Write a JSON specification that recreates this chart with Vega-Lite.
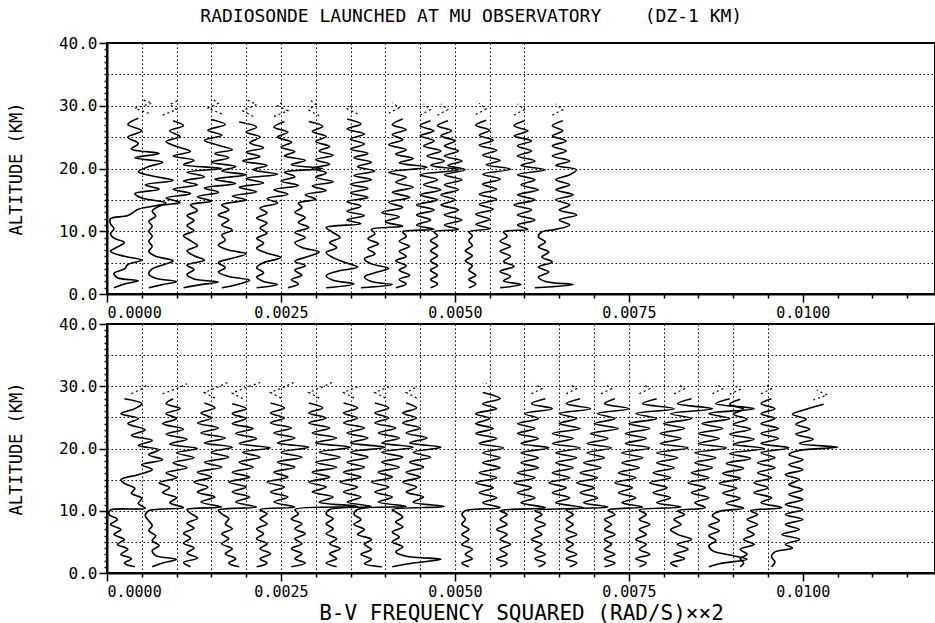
{
"$schema": "https://vega.github.io/schema/vega-lite/v6.json",
"background": "white",
"padding": {"left": 6, "top": 8, "right": 0, "bottom": 0},
"bounds": "flush",
"title": {"text": "RADIOSONDE LAUNCHED AT MU OBSERVATORY\u00a0\u00a0\u00a0\u00a0(DZ-1 KM)", "font": "DejaVu Sans Mono", "fontSize": 18, "fontWeight": "normal", "color": "black", "anchor": "middle", "offset": 8},
"config": {
  "view": {"stroke": "black", "strokeWidth": 2},
  "font": "DejaVu Sans Mono",
  "axis": {"domainColor": "black", "domainWidth": 2, "tickColor": "black", "tickWidth": 1.5, "labelColor": "black", "labelFont": "DejaVu Sans Mono", "titleFont": "DejaVu Sans Mono", "titleColor": "black", "titleFontWeight": "normal", "gridColor": "black", "gridDash": [1.5, 2.5], "gridWidth": 1}
},
"spacing": 30,
"datasets": {
"top": [
{"p":0,"h":1,"n":0.0001},{"p":0,"h":1.6,"n":0.00025},{"p":0,"h":2.1,"n":0.00045},{"p":0,"h":2.6,"n":0.00015},{"p":0,"h":3.3,"n":0.0001},{"p":0,"h":4,"n":0.00025},{"p":0,"h":4.7,"n":0.0003},{"p":0,"h":5.4,"n":0.0005},{"p":0,"h":6,"n":0.00025},{"p":0,"h":6.8,"n":0.00005},{"p":0,"h":7.5,"n":0.00015},{"p":0,"h":8.2,"n":0.00025},{"p":0,"h":8.9,"n":0.0001},{"p":0,"h":9.6,"n":0.00005},{"p":0,"h":10.4,"n":0.0001},{"p":0,"h":11.2,"n":0.00005},{"p":0,"h":12,"n":0.00005},{"p":0,"h":12.5,"n":0.0003},{"p":0,"h":13.5,"n":0.00045},{"p":0,"h":14.5,"n":0.00085},{"p":0,"h":15.3,"n":0.0005},{"p":0,"h":16,"n":0.0004},{"p":0,"h":16.7,"n":0.00075},{"p":0,"h":17.4,"n":0.00055},{"p":0,"h":18.1,"n":0.00095},{"p":0,"h":18.8,"n":0.00065},{"p":0,"h":19.5,"n":0.00045},{"p":0,"h":20.3,"n":0.0006},{"p":0,"h":21,"n":0.0008},{"p":0,"h":21.7,"n":0.0004},{"p":0,"h":22.4,"n":0.00075},{"p":0,"h":23.1,"n":0.00035},{"p":0,"h":24,"n":0.00045},{"p":0,"h":25,"n":0.0003},{"p":0,"h":26,"n":0.0005},{"p":0,"h":27,"n":0.0003},{"p":0,"h":28,"n":0.00045},
{"p":1,"h":1,"n":0.0006},{"p":1,"h":1.5,"n":0.0008},{"p":1,"h":2,"n":0.001},{"p":1,"h":2.5,"n":0.0007},{"p":1,"h":3.2,"n":0.0006},{"p":1,"h":4,"n":0.00065},{"p":1,"h":4.8,"n":0.00085},{"p":1,"h":5.3,"n":0.00095},{"p":1,"h":6,"n":0.0007},{"p":1,"h":6.8,"n":0.0006},{"p":1,"h":7.6,"n":0.00065},{"p":1,"h":8.4,"n":0.0006},{"p":1,"h":9.2,"n":0.00065},{"p":1,"h":10,"n":0.0006},{"p":1,"h":10.8,"n":0.00065},{"p":1,"h":11.6,"n":0.0006},{"p":1,"h":12.4,"n":0.0007},{"p":1,"h":13.2,"n":0.00065},{"p":1,"h":14,"n":0.00075},{"p":1,"h":14.6,"n":0.00105},{"p":1,"h":15.3,"n":0.00085},{"p":1,"h":16,"n":0.0012},{"p":1,"h":16.7,"n":0.00095},{"p":1,"h":17.4,"n":0.0013},{"p":1,"h":18,"n":0.0011},{"p":1,"h":18.7,"n":0.0014},{"p":1,"h":19.4,"n":0.00115},{"p":1,"h":20,"n":0.00165},{"p":1,"h":20.6,"n":0.0011},{"p":1,"h":21.3,"n":0.00125},{"p":1,"h":22,"n":0.00095},{"p":1,"h":22.7,"n":0.0012},{"p":1,"h":23.5,"n":0.001},{"p":1,"h":24.3,"n":0.00085},{"p":1,"h":25.1,"n":0.00105},{"p":1,"h":26,"n":0.0009},{"p":1,"h":26.8,"n":0.0011},{"p":1,"h":27.6,"n":0.00095},
{"p":2,"h":1,"n":0.0011},{"p":2,"h":1.5,"n":0.00135},{"p":2,"h":1.9,"n":0.0016},{"p":2,"h":2.4,"n":0.00125},{"p":2,"h":3.1,"n":0.00115},{"p":2,"h":3.9,"n":0.00125},{"p":2,"h":4.6,"n":0.00115},{"p":2,"h":5.4,"n":0.0014},{"p":2,"h":6.1,"n":0.00125},{"p":2,"h":6.9,"n":0.00115},{"p":2,"h":7.7,"n":0.0013},{"p":2,"h":8.5,"n":0.0012},{"p":2,"h":9.3,"n":0.0011},{"p":2,"h":10.1,"n":0.00125},{"p":2,"h":10.9,"n":0.00115},{"p":2,"h":11.7,"n":0.00125},{"p":2,"h":12.5,"n":0.00115},{"p":2,"h":13.3,"n":0.0013},{"p":2,"h":14.2,"n":0.0012},{"p":2,"h":14.8,"n":0.0015},{"p":2,"h":15.5,"n":0.0013},{"p":2,"h":16.2,"n":0.0016},{"p":2,"h":16.9,"n":0.0014},{"p":2,"h":17.6,"n":0.00185},{"p":2,"h":18.3,"n":0.00155},{"p":2,"h":19,"n":0.002},{"p":2,"h":19.6,"n":0.00165},{"p":2,"h":20.3,"n":0.00185},{"p":2,"h":21,"n":0.0015},{"p":2,"h":21.7,"n":0.00175},{"p":2,"h":22.4,"n":0.00155},{"p":2,"h":23,"n":0.0018},{"p":2,"h":23.7,"n":0.0016},{"p":2,"h":24.5,"n":0.0014},{"p":2,"h":25.3,"n":0.00165},{"p":2,"h":26.1,"n":0.00145},{"p":2,"h":27,"n":0.0017},{"p":2,"h":27.8,"n":0.0015},
{"p":3,"h":1,"n":0.00165},{"p":3,"h":1.6,"n":0.0019},{"p":3,"h":2.2,"n":0.00205},{"p":3,"h":2.8,"n":0.00175},{"p":3,"h":3.5,"n":0.0016},{"p":3,"h":4.2,"n":0.0017},{"p":3,"h":5,"n":0.0016},{"p":3,"h":5.7,"n":0.0018},{"p":3,"h":6.4,"n":0.002},{"p":3,"h":7,"n":0.00175},{"p":3,"h":7.8,"n":0.0016},{"p":3,"h":8.6,"n":0.0017},{"p":3,"h":9.4,"n":0.00165},{"p":3,"h":10.2,"n":0.0018},{"p":3,"h":11,"n":0.00165},{"p":3,"h":11.8,"n":0.00175},{"p":3,"h":12.6,"n":0.0016},{"p":3,"h":13.4,"n":0.00175},{"p":3,"h":14.2,"n":0.00165},{"p":3,"h":15,"n":0.002},{"p":3,"h":15.6,"n":0.0018},{"p":3,"h":16.3,"n":0.00215},{"p":3,"h":17,"n":0.0019},{"p":3,"h":17.7,"n":0.00225},{"p":3,"h":18.4,"n":0.002},{"p":3,"h":19.1,"n":0.00245},{"p":3,"h":19.8,"n":0.0021},{"p":3,"h":20.5,"n":0.0023},{"p":3,"h":21.2,"n":0.00195},{"p":3,"h":21.9,"n":0.0022},{"p":3,"h":22.6,"n":0.002},{"p":3,"h":23.3,"n":0.00225},{"p":3,"h":24.1,"n":0.00205},{"p":3,"h":25,"n":0.0022},{"p":3,"h":25.8,"n":0.002},{"p":3,"h":26.6,"n":0.00215},{"p":3,"h":27.4,"n":0.0019},
{"p":4,"h":1,"n":0.00215},{"p":4,"h":1.5,"n":0.00245},{"p":4,"h":2,"n":0.00225},{"p":4,"h":2.7,"n":0.00215},{"p":4,"h":3.4,"n":0.00225},{"p":4,"h":4.2,"n":0.00215},{"p":4,"h":5,"n":0.00225},{"p":4,"h":5.8,"n":0.0025},{"p":4,"h":6.5,"n":0.0023},{"p":4,"h":7.3,"n":0.00215},{"p":4,"h":8.1,"n":0.00225},{"p":4,"h":8.9,"n":0.00215},{"p":4,"h":9.7,"n":0.0023},{"p":4,"h":10.5,"n":0.0022},{"p":4,"h":11.3,"n":0.0023},{"p":4,"h":12.1,"n":0.00215},{"p":4,"h":12.9,"n":0.0023},{"p":4,"h":13.7,"n":0.0022},{"p":4,"h":14.5,"n":0.00245},{"p":4,"h":15.2,"n":0.0023},{"p":4,"h":15.9,"n":0.0026},{"p":4,"h":16.6,"n":0.0024},{"p":4,"h":17.3,"n":0.00275},{"p":4,"h":18,"n":0.0025},{"p":4,"h":18.7,"n":0.0027},{"p":4,"h":19.4,"n":0.00255},{"p":4,"h":20,"n":0.0031},{"p":4,"h":20.6,"n":0.00265},{"p":4,"h":21.3,"n":0.00285},{"p":4,"h":22,"n":0.00255},{"p":4,"h":22.7,"n":0.0027},{"p":4,"h":23.4,"n":0.0025},{"p":4,"h":24.2,"n":0.00265},{"p":4,"h":25,"n":0.00245},{"p":4,"h":25.8,"n":0.0026},{"p":4,"h":26.6,"n":0.0024},{"p":4,"h":27.5,"n":0.00255},
{"p":5,"h":1,"n":0.0026},{"p":5,"h":1.6,"n":0.00275},{"p":5,"h":2.3,"n":0.00265},{"p":5,"h":3,"n":0.0028},{"p":5,"h":3.8,"n":0.0027},{"p":5,"h":4.5,"n":0.00285},{"p":5,"h":5.2,"n":0.0027},{"p":5,"h":6,"n":0.0029},{"p":5,"h":6.7,"n":0.00305},{"p":5,"h":7.4,"n":0.0028},{"p":5,"h":8.2,"n":0.0027},{"p":5,"h":9,"n":0.00285},{"p":5,"h":9.8,"n":0.0027},{"p":5,"h":10.6,"n":0.0029},{"p":5,"h":11.4,"n":0.00275},{"p":5,"h":12.2,"n":0.00285},{"p":5,"h":13,"n":0.0027},{"p":5,"h":13.8,"n":0.0028},{"p":5,"h":14.5,"n":0.00275},{"p":5,"h":15.1,"n":0.003},{"p":5,"h":15.8,"n":0.00285},{"p":5,"h":16.5,"n":0.00315},{"p":5,"h":17.2,"n":0.00295},{"p":5,"h":17.9,"n":0.00325},{"p":5,"h":18.6,"n":0.003},{"p":5,"h":19.3,"n":0.00315},{"p":5,"h":20,"n":0.00295},{"p":5,"h":20.7,"n":0.0032},{"p":5,"h":21.4,"n":0.003},{"p":5,"h":22.1,"n":0.00325},{"p":5,"h":22.8,"n":0.00305},{"p":5,"h":23.5,"n":0.0032},{"p":5,"h":24.3,"n":0.003},{"p":5,"h":25.1,"n":0.00315},{"p":5,"h":25.9,"n":0.00295},{"p":5,"h":26.7,"n":0.0031},{"p":5,"h":27.5,"n":0.0029},
{"p":6,"h":1,"n":0.00315},{"p":6,"h":1.6,"n":0.00355},{"p":6,"h":2.2,"n":0.00325},{"p":6,"h":2.9,"n":0.00315},{"p":6,"h":3.6,"n":0.0033},{"p":6,"h":4.3,"n":0.0036},{"p":6,"h":5.1,"n":0.0034},{"p":6,"h":5.8,"n":0.00325},{"p":6,"h":6.6,"n":0.00315},{"p":6,"h":7.4,"n":0.0033},{"p":6,"h":8.2,"n":0.0032},{"p":6,"h":9,"n":0.00335},{"p":6,"h":9.8,"n":0.00325},{"p":6,"h":10.6,"n":0.00315},{"p":6,"h":11.2,"n":0.00365},{"p":6,"h":11.8,"n":0.00345},{"p":6,"h":12.5,"n":0.0037},{"p":6,"h":13.2,"n":0.00345},{"p":6,"h":14,"n":0.00365},{"p":6,"h":14.7,"n":0.00345},{"p":6,"h":15.4,"n":0.00375},{"p":6,"h":16.1,"n":0.0035},{"p":6,"h":16.8,"n":0.00375},{"p":6,"h":17.5,"n":0.0035},{"p":6,"h":18.2,"n":0.0038},{"p":6,"h":18.9,"n":0.00355},{"p":6,"h":19.6,"n":0.00385},{"p":6,"h":20.3,"n":0.0036},{"p":6,"h":21,"n":0.0038},{"p":6,"h":21.7,"n":0.00355},{"p":6,"h":22.4,"n":0.00375},{"p":6,"h":23.1,"n":0.0035},{"p":6,"h":23.9,"n":0.0037},{"p":6,"h":24.7,"n":0.0035},{"p":6,"h":25.5,"n":0.0037},{"p":6,"h":26.3,"n":0.00345},{"p":6,"h":27.1,"n":0.00365},{"p":6,"h":27.9,"n":0.00345},
{"p":7,"h":1,"n":0.00365},{"p":7,"h":1.5,"n":0.0041},{"p":7,"h":2,"n":0.0038},{"p":7,"h":2.7,"n":0.0037},{"p":7,"h":3.4,"n":0.00385},{"p":7,"h":4.1,"n":0.00405},{"p":7,"h":4.8,"n":0.0038},{"p":7,"h":5.6,"n":0.0037},{"p":7,"h":6.4,"n":0.00385},{"p":7,"h":7.2,"n":0.00375},{"p":7,"h":8,"n":0.0039},{"p":7,"h":8.8,"n":0.00375},{"p":7,"h":9.6,"n":0.00385},{"p":7,"h":10.3,"n":0.0038},{"p":7,"h":10.8,"n":0.00425},{"p":7,"h":11.5,"n":0.004},{"p":7,"h":12.3,"n":0.0042},{"p":7,"h":13,"n":0.00395},{"p":7,"h":13.8,"n":0.00425},{"p":7,"h":14.6,"n":0.00405},{"p":7,"h":15.4,"n":0.00435},{"p":7,"h":16.2,"n":0.0041},{"p":7,"h":17,"n":0.0044},{"p":7,"h":17.8,"n":0.00415},{"p":7,"h":18.6,"n":0.0043},{"p":7,"h":19.4,"n":0.00405},{"p":7,"h":20.2,"n":0.0046},{"p":7,"h":20.9,"n":0.0042},{"p":7,"h":21.6,"n":0.0044},{"p":7,"h":22.3,"n":0.00415},{"p":7,"h":23,"n":0.0043},{"p":7,"h":23.8,"n":0.00405},{"p":7,"h":24.6,"n":0.00425},{"p":7,"h":25.4,"n":0.0041},{"p":7,"h":26.2,"n":0.0043},{"p":7,"h":27,"n":0.0041},{"p":7,"h":27.9,"n":0.00425},
{"p":8,"h":1,"n":0.00415},{"p":8,"h":1.6,"n":0.0043},{"p":8,"h":2.3,"n":0.0042},{"p":8,"h":3,"n":0.00435},{"p":8,"h":3.8,"n":0.0042},{"p":8,"h":4.5,"n":0.0043},{"p":8,"h":5.3,"n":0.00415},{"p":8,"h":6,"n":0.0043},{"p":8,"h":6.8,"n":0.0042},{"p":8,"h":7.6,"n":0.00435},{"p":8,"h":8.4,"n":0.0042},{"p":8,"h":9.2,"n":0.0043},{"p":8,"h":9.9,"n":0.00425},{"p":8,"h":10.3,"n":0.0047},{"p":8,"h":11,"n":0.00445},{"p":8,"h":11.8,"n":0.00465},{"p":8,"h":12.6,"n":0.00445},{"p":8,"h":13.4,"n":0.0047},{"p":8,"h":14.2,"n":0.00445},{"p":8,"h":15,"n":0.00475},{"p":8,"h":15.8,"n":0.0045},{"p":8,"h":16.6,"n":0.0048},{"p":8,"h":17.4,"n":0.00455},{"p":8,"h":18.2,"n":0.00475},{"p":8,"h":19,"n":0.0045},{"p":8,"h":19.8,"n":0.00505},{"p":8,"h":20.5,"n":0.00465},{"p":8,"h":21.2,"n":0.00485},{"p":8,"h":22,"n":0.0046},{"p":8,"h":22.8,"n":0.0048},{"p":8,"h":23.6,"n":0.00455},{"p":8,"h":24.4,"n":0.0047},{"p":8,"h":25.2,"n":0.0045},{"p":8,"h":26,"n":0.0047},{"p":8,"h":26.8,"n":0.0045},{"p":8,"h":27.6,"n":0.00465},
{"p":9,"h":1,"n":0.00465},{"p":9,"h":1.6,"n":0.00475},{"p":9,"h":2.3,"n":0.00465},{"p":9,"h":3,"n":0.00475},{"p":9,"h":3.8,"n":0.00465},{"p":9,"h":4.5,"n":0.00475},{"p":9,"h":5.3,"n":0.00465},{"p":9,"h":6.1,"n":0.00475},{"p":9,"h":6.9,"n":0.00465},{"p":9,"h":7.7,"n":0.00475},{"p":9,"h":8.5,"n":0.00465},{"p":9,"h":9.3,"n":0.00475},{"p":9,"h":9.9,"n":0.0047},{"p":9,"h":10.3,"n":0.00505},{"p":9,"h":11,"n":0.00485},{"p":9,"h":11.8,"n":0.0051},{"p":9,"h":12.6,"n":0.00485},{"p":9,"h":13.4,"n":0.00505},{"p":9,"h":14.2,"n":0.0048},{"p":9,"h":15,"n":0.005},{"p":9,"h":15.8,"n":0.0048},{"p":9,"h":16.6,"n":0.00505},{"p":9,"h":17.4,"n":0.00485},{"p":9,"h":18.2,"n":0.0051},{"p":9,"h":19,"n":0.00485},{"p":9,"h":19.8,"n":0.00515},{"p":9,"h":20.5,"n":0.0049},{"p":9,"h":21.2,"n":0.0051},{"p":9,"h":22,"n":0.00485},{"p":9,"h":22.8,"n":0.00505},{"p":9,"h":23.6,"n":0.00485},{"p":9,"h":24.4,"n":0.005},{"p":9,"h":25.2,"n":0.0048},{"p":9,"h":26,"n":0.00495},{"p":9,"h":26.8,"n":0.00475},{"p":9,"h":27.6,"n":0.0049},
{"p":10,"h":1,"n":0.0052},{"p":10,"h":1.6,"n":0.0053},{"p":10,"h":2.3,"n":0.0052},{"p":10,"h":3,"n":0.0053},{"p":10,"h":3.8,"n":0.0052},{"p":10,"h":4.5,"n":0.00525},{"p":10,"h":5.3,"n":0.00515},{"p":10,"h":6.1,"n":0.00525},{"p":10,"h":6.9,"n":0.00515},{"p":10,"h":7.7,"n":0.00525},{"p":10,"h":8.5,"n":0.0052},{"p":10,"h":9.3,"n":0.00525},{"p":10,"h":9.9,"n":0.0052},{"p":10,"h":10.4,"n":0.0055},{"p":10,"h":11.1,"n":0.0053},{"p":10,"h":11.9,"n":0.0055},{"p":10,"h":12.7,"n":0.0053},{"p":10,"h":13.5,"n":0.00555},{"p":10,"h":14.3,"n":0.00535},{"p":10,"h":15.1,"n":0.0056},{"p":10,"h":15.9,"n":0.00535},{"p":10,"h":16.7,"n":0.0056},{"p":10,"h":17.5,"n":0.0054},{"p":10,"h":18.3,"n":0.00565},{"p":10,"h":19.1,"n":0.0054},{"p":10,"h":19.9,"n":0.0058},{"p":10,"h":20.6,"n":0.00545},{"p":10,"h":21.3,"n":0.00565},{"p":10,"h":22.1,"n":0.0054},{"p":10,"h":22.9,"n":0.0056},{"p":10,"h":23.7,"n":0.00535},{"p":10,"h":24.5,"n":0.00555},{"p":10,"h":25.3,"n":0.00535},{"p":10,"h":26.1,"n":0.0055},{"p":10,"h":26.9,"n":0.0053},{"p":10,"h":27.7,"n":0.00545},
{"p":11,"h":1,"n":0.00565},{"p":11,"h":1.5,"n":0.00595},{"p":11,"h":2.1,"n":0.0057},{"p":11,"h":2.8,"n":0.0058},{"p":11,"h":3.6,"n":0.00565},{"p":11,"h":4.4,"n":0.00585},{"p":11,"h":5.2,"n":0.0057},{"p":11,"h":6,"n":0.0058},{"p":11,"h":6.8,"n":0.00565},{"p":11,"h":7.6,"n":0.0058},{"p":11,"h":8.4,"n":0.00565},{"p":11,"h":9.2,"n":0.00575},{"p":11,"h":9.9,"n":0.0057},{"p":11,"h":10.3,"n":0.00605},{"p":11,"h":11,"n":0.0059},{"p":11,"h":11.8,"n":0.00615},{"p":11,"h":12.6,"n":0.0059},{"p":11,"h":13.4,"n":0.0061},{"p":11,"h":14.2,"n":0.00585},{"p":11,"h":15,"n":0.00615},{"p":11,"h":15.8,"n":0.0059},{"p":11,"h":16.6,"n":0.0062},{"p":11,"h":17.4,"n":0.00595},{"p":11,"h":18.2,"n":0.00615},{"p":11,"h":19,"n":0.0059},{"p":11,"h":19.8,"n":0.0063},{"p":11,"h":20.5,"n":0.00595},{"p":11,"h":21.2,"n":0.00615},{"p":11,"h":22,"n":0.0059},{"p":11,"h":22.8,"n":0.0061},{"p":11,"h":23.6,"n":0.0059},{"p":11,"h":24.4,"n":0.0061},{"p":11,"h":25.2,"n":0.00585},{"p":11,"h":26,"n":0.00605},{"p":11,"h":26.8,"n":0.00585},{"p":11,"h":27.6,"n":0.006},
{"p":12,"h":1,"n":0.00615},{"p":12,"h":1.5,"n":0.0067},{"p":12,"h":2,"n":0.0063},{"p":12,"h":2.7,"n":0.0062},{"p":12,"h":3.5,"n":0.00635},{"p":12,"h":4.3,"n":0.0062},{"p":12,"h":5.1,"n":0.0064},{"p":12,"h":5.9,"n":0.00625},{"p":12,"h":6.7,"n":0.00635},{"p":12,"h":7.5,"n":0.0062},{"p":12,"h":8.3,"n":0.0063},{"p":12,"h":9.1,"n":0.0062},{"p":12,"h":9.9,"n":0.00625},{"p":12,"h":10.3,"n":0.00645},{"p":12,"h":11,"n":0.00665},{"p":12,"h":11.8,"n":0.0065},{"p":12,"h":12.6,"n":0.00675},{"p":12,"h":13.4,"n":0.0065},{"p":12,"h":14.2,"n":0.00665},{"p":12,"h":15,"n":0.00645},{"p":12,"h":15.8,"n":0.0067},{"p":12,"h":16.6,"n":0.00645},{"p":12,"h":17.4,"n":0.00665},{"p":12,"h":18.2,"n":0.00645},{"p":12,"h":19,"n":0.00665},{"p":12,"h":19.8,"n":0.00675},{"p":12,"h":20.5,"n":0.00645},{"p":12,"h":21.2,"n":0.00665},{"p":12,"h":22,"n":0.0064},{"p":12,"h":22.8,"n":0.0066},{"p":12,"h":23.6,"n":0.0064},{"p":12,"h":24.4,"n":0.0066},{"p":12,"h":25.2,"n":0.0064},{"p":12,"h":26,"n":0.00655},{"p":12,"h":26.8,"n":0.0064},{"p":12,"h":27.6,"n":0.00655}
],
"topU": [
{"p":0,"h":28.8,"n":0.0006},{"p":0,"h":29.6,"n":0.0004},{"p":0,"h":30.4,"n":0.00065},{"p":0,"h":31,"n":0.0005},
{"p":1,"h":28.5,"n":0.0008},{"p":1,"h":29.4,"n":0.001},{"p":1,"h":30.2,"n":0.0009},{"p":1,"h":31,"n":0.00105},
{"p":2,"h":28.7,"n":0.00165},{"p":2,"h":29.6,"n":0.00145},{"p":2,"h":30.4,"n":0.0016},{"p":2,"h":31.2,"n":0.0015},
{"p":3,"h":28.3,"n":0.0021},{"p":3,"h":29.2,"n":0.00195},{"p":3,"h":30.2,"n":0.00215},{"p":3,"h":31,"n":0.002},
{"p":4,"h":28.3,"n":0.0024},{"p":4,"h":29.2,"n":0.0026},{"p":4,"h":30,"n":0.00245},{"p":4,"h":30.8,"n":0.00255},
{"p":5,"h":28.4,"n":0.00305},{"p":5,"h":29.3,"n":0.0029},{"p":5,"h":30.3,"n":0.003},{"p":5,"h":31,"n":0.0029},
{"p":6,"h":28.7,"n":0.0036},{"p":6,"h":29.5,"n":0.00345},{"p":6,"h":30.3,"n":0.00355},
{"p":7,"h":28.8,"n":0.00405},{"p":7,"h":29.7,"n":0.0042},{"p":7,"h":30.5,"n":0.0041},
{"p":8,"h":28.5,"n":0.0045},{"p":8,"h":29.4,"n":0.00465},{"p":8,"h":30.3,"n":0.00455},
{"p":9,"h":28.5,"n":0.00475},{"p":9,"h":29.4,"n":0.0049},{"p":9,"h":30.3,"n":0.0048},
{"p":10,"h":28.6,"n":0.0053},{"p":10,"h":29.5,"n":0.00545},{"p":10,"h":30.4,"n":0.00535},
{"p":11,"h":28.5,"n":0.00585},{"p":11,"h":29.4,"n":0.006},{"p":11,"h":30.3,"n":0.0059},
{"p":12,"h":28.5,"n":0.0064},{"p":12,"h":29.4,"n":0.00655},{"p":12,"h":30.3,"n":0.00645}
],
"bot": [
{"p":0,"h":1,"n":0.0004},{"p":0,"h":1.6,"n":0.00025},{"p":0,"h":2.3,"n":0.00035},{"p":0,"h":3,"n":0.0002},{"p":0,"h":3.8,"n":0.0003},{"p":0,"h":4.6,"n":0.00015},{"p":0,"h":5.4,"n":0.00025},{"p":0,"h":6.2,"n":0.0001},{"p":0,"h":7,"n":0.0002},{"p":0,"h":7.8,"n":0.00005},{"p":0,"h":8.6,"n":0.00015},{"p":0,"h":9.4,"n":0.00003},{"p":0,"h":10.1,"n":0.00005},{"p":0,"h":10.4,"n":0.00055},{"p":0,"h":11.2,"n":0.00045},{"p":0,"h":12,"n":0.0005},{"p":0,"h":12.8,"n":0.00035},{"p":0,"h":13.6,"n":0.0004},{"p":0,"h":14.4,"n":0.00025},{"p":0,"h":15,"n":0.0002},{"p":0,"h":15.8,"n":0.00045},{"p":0,"h":16.6,"n":0.00065},{"p":0,"h":17.4,"n":0.0005},{"p":0,"h":18.2,"n":0.0008},{"p":0,"h":19,"n":0.0006},{"p":0,"h":19.8,"n":0.00075},{"p":0,"h":20.5,"n":0.00045},{"p":0,"h":21.3,"n":0.00065},{"p":0,"h":22.1,"n":0.00035},{"p":0,"h":23,"n":0.00055},{"p":0,"h":24,"n":0.0003},{"p":0,"h":24.8,"n":0.00045},{"p":0,"h":25.6,"n":0.0002},{"p":0,"h":26.4,"n":0.0004},{"p":0,"h":27.2,"n":0.0005},{"p":0,"h":28,"n":0.00025},
{"p":1,"h":1,"n":0.00065},{"p":1,"h":1.6,"n":0.0008},{"p":1,"h":2.2,"n":0.001},{"p":1,"h":2.8,"n":0.0007},{"p":1,"h":3.6,"n":0.00065},{"p":1,"h":4.4,"n":0.00075},{"p":1,"h":5.2,"n":0.00065},{"p":1,"h":6,"n":0.0007},{"p":1,"h":6.8,"n":0.0006},{"p":1,"h":7.6,"n":0.00065},{"p":1,"h":8.4,"n":0.0006},{"p":1,"h":9.2,"n":0.00055},{"p":1,"h":10,"n":0.0006},{"p":1,"h":10.5,"n":0.0011},{"p":1,"h":11.3,"n":0.0009},{"p":1,"h":12.1,"n":0.001},{"p":1,"h":12.9,"n":0.0008},{"p":1,"h":13.7,"n":0.0009},{"p":1,"h":14.5,"n":0.00075},{"p":1,"h":15.3,"n":0.001},{"p":1,"h":16.1,"n":0.00085},{"p":1,"h":16.9,"n":0.00115},{"p":1,"h":17.7,"n":0.00095},{"p":1,"h":18.5,"n":0.00125},{"p":1,"h":19.3,"n":0.001},{"p":1,"h":20,"n":0.0013},{"p":1,"h":20.7,"n":0.0009},{"p":1,"h":21.5,"n":0.00115},{"p":1,"h":22.3,"n":0.00085},{"p":1,"h":23.1,"n":0.0011},{"p":1,"h":24,"n":0.0008},{"p":1,"h":24.8,"n":0.001},{"p":1,"h":25.6,"n":0.00085},{"p":1,"h":26.4,"n":0.00105},{"p":1,"h":27.2,"n":0.00085},{"p":1,"h":28,"n":0.00095},
{"p":2,"h":1,"n":0.0012},{"p":2,"h":1.7,"n":0.0011},{"p":2,"h":2.4,"n":0.0013},{"p":2,"h":3.2,"n":0.00115},{"p":2,"h":4,"n":0.00125},{"p":2,"h":4.8,"n":0.0011},{"p":2,"h":5.6,"n":0.0012},{"p":2,"h":6.4,"n":0.0011},{"p":2,"h":7.2,"n":0.00125},{"p":2,"h":8,"n":0.00115},{"p":2,"h":8.8,"n":0.0013},{"p":2,"h":9.6,"n":0.0012},{"p":2,"h":10.2,"n":0.00115},{"p":2,"h":10.6,"n":0.00165},{"p":2,"h":11.4,"n":0.00135},{"p":2,"h":12.2,"n":0.00155},{"p":2,"h":13,"n":0.0013},{"p":2,"h":13.8,"n":0.00145},{"p":2,"h":14.6,"n":0.00125},{"p":2,"h":15.4,"n":0.0015},{"p":2,"h":16.2,"n":0.0013},{"p":2,"h":17,"n":0.00165},{"p":2,"h":17.8,"n":0.0014},{"p":2,"h":18.6,"n":0.00175},{"p":2,"h":19.4,"n":0.0015},{"p":2,"h":20.2,"n":0.0018},{"p":2,"h":20.9,"n":0.0014},{"p":2,"h":21.7,"n":0.0017},{"p":2,"h":22.5,"n":0.00135},{"p":2,"h":23.3,"n":0.0016},{"p":2,"h":24.1,"n":0.0013},{"p":2,"h":24.9,"n":0.0015},{"p":2,"h":25.7,"n":0.00135},{"p":2,"h":26.5,"n":0.00155},{"p":2,"h":27.3,"n":0.0014},
{"p":3,"h":1,"n":0.0019},{"p":3,"h":1.6,"n":0.00175},{"p":3,"h":2.3,"n":0.00185},{"p":3,"h":3.1,"n":0.0017},{"p":3,"h":3.9,"n":0.0018},{"p":3,"h":4.7,"n":0.00165},{"p":3,"h":5.5,"n":0.00175},{"p":3,"h":6.3,"n":0.00165},{"p":3,"h":7.1,"n":0.0018},{"p":3,"h":7.9,"n":0.0017},{"p":3,"h":8.7,"n":0.00175},{"p":3,"h":9.5,"n":0.00165},{"p":3,"h":10.1,"n":0.0016},{"p":3,"h":10.6,"n":0.00215},{"p":3,"h":11.4,"n":0.00185},{"p":3,"h":12.2,"n":0.00205},{"p":3,"h":13,"n":0.0018},{"p":3,"h":13.8,"n":0.002},{"p":3,"h":14.6,"n":0.00175},{"p":3,"h":15.4,"n":0.00205},{"p":3,"h":16.2,"n":0.0018},{"p":3,"h":17,"n":0.0021},{"p":3,"h":17.8,"n":0.0019},{"p":3,"h":18.6,"n":0.0022},{"p":3,"h":19.4,"n":0.00195},{"p":3,"h":20.1,"n":0.00235},{"p":3,"h":20.8,"n":0.0019},{"p":3,"h":21.6,"n":0.00215},{"p":3,"h":22.4,"n":0.00185},{"p":3,"h":23.2,"n":0.0021},{"p":3,"h":24,"n":0.0018},{"p":3,"h":24.8,"n":0.002},{"p":3,"h":25.6,"n":0.0018},{"p":3,"h":26.4,"n":0.002},{"p":3,"h":27.2,"n":0.0018},
{"p":4,"h":1,"n":0.00215},{"p":4,"h":1.6,"n":0.0023},{"p":4,"h":2.3,"n":0.0022},{"p":4,"h":3.1,"n":0.00235},{"p":4,"h":3.9,"n":0.0022},{"p":4,"h":4.7,"n":0.0023},{"p":4,"h":5.5,"n":0.00215},{"p":4,"h":6.3,"n":0.00225},{"p":4,"h":7.1,"n":0.00215},{"p":4,"h":7.9,"n":0.0023},{"p":4,"h":8.7,"n":0.0022},{"p":4,"h":9.5,"n":0.0023},{"p":4,"h":10.2,"n":0.0022},{"p":4,"h":10.6,"n":0.0027},{"p":4,"h":11.4,"n":0.0024},{"p":4,"h":12.2,"n":0.0026},{"p":4,"h":13,"n":0.00235},{"p":4,"h":13.8,"n":0.00255},{"p":4,"h":14.6,"n":0.0023},{"p":4,"h":15.4,"n":0.0026},{"p":4,"h":16.2,"n":0.0024},{"p":4,"h":17,"n":0.0027},{"p":4,"h":17.8,"n":0.00245},{"p":4,"h":18.6,"n":0.0028},{"p":4,"h":19.4,"n":0.0025},{"p":4,"h":20.2,"n":0.0029},{"p":4,"h":20.9,"n":0.00245},{"p":4,"h":21.7,"n":0.0027},{"p":4,"h":22.5,"n":0.0024},{"p":4,"h":23.3,"n":0.00265},{"p":4,"h":24.1,"n":0.00235},{"p":4,"h":24.9,"n":0.00255},{"p":4,"h":25.7,"n":0.00235},{"p":4,"h":26.5,"n":0.00255},{"p":4,"h":27.3,"n":0.00235},
{"p":5,"h":1,"n":0.00265},{"p":5,"h":1.6,"n":0.00285},{"p":5,"h":2.3,"n":0.0027},{"p":5,"h":3.1,"n":0.0028},{"p":5,"h":3.9,"n":0.00265},{"p":5,"h":4.7,"n":0.0028},{"p":5,"h":5.5,"n":0.0027},{"p":5,"h":6.3,"n":0.00285},{"p":5,"h":7.1,"n":0.0027},{"p":5,"h":7.9,"n":0.0028},{"p":5,"h":8.7,"n":0.00265},{"p":5,"h":9.5,"n":0.00275},{"p":5,"h":10.2,"n":0.0027},{"p":5,"h":10.7,"n":0.0036},{"p":5,"h":11.4,"n":0.00305},{"p":5,"h":12.2,"n":0.00325},{"p":5,"h":13,"n":0.00295},{"p":5,"h":13.8,"n":0.00315},{"p":5,"h":14.6,"n":0.0029},{"p":5,"h":15.4,"n":0.0032},{"p":5,"h":16.2,"n":0.00295},{"p":5,"h":17,"n":0.0033},{"p":5,"h":17.8,"n":0.003},{"p":5,"h":18.6,"n":0.00335},{"p":5,"h":19.4,"n":0.00305},{"p":5,"h":20.2,"n":0.0035},{"p":5,"h":20.9,"n":0.003},{"p":5,"h":21.7,"n":0.0033},{"p":5,"h":22.5,"n":0.00295},{"p":5,"h":23.3,"n":0.0032},{"p":5,"h":24.1,"n":0.0029},{"p":5,"h":24.9,"n":0.00315},{"p":5,"h":25.7,"n":0.0029},{"p":5,"h":26.5,"n":0.0031},{"p":5,"h":27.3,"n":0.0029},
{"p":6,"h":1,"n":0.0033},{"p":6,"h":1.6,"n":0.00315},{"p":6,"h":2.3,"n":0.0033},{"p":6,"h":3.1,"n":0.0032},{"p":6,"h":3.9,"n":0.00335},{"p":6,"h":4.7,"n":0.0032},{"p":6,"h":5.5,"n":0.0033},{"p":6,"h":6.3,"n":0.00315},{"p":6,"h":7.1,"n":0.00325},{"p":6,"h":7.9,"n":0.00315},{"p":6,"h":8.7,"n":0.00325},{"p":6,"h":9.5,"n":0.00315},{"p":6,"h":10.2,"n":0.0032},{"p":6,"h":10.7,"n":0.0038},{"p":6,"h":11.4,"n":0.00345},{"p":6,"h":12.2,"n":0.00365},{"p":6,"h":13,"n":0.0034},{"p":6,"h":13.8,"n":0.0036},{"p":6,"h":14.6,"n":0.00335},{"p":6,"h":15.4,"n":0.00365},{"p":6,"h":16.2,"n":0.0034},{"p":6,"h":17,"n":0.0037},{"p":6,"h":17.8,"n":0.00345},{"p":6,"h":18.6,"n":0.00375},{"p":6,"h":19.4,"n":0.0035},{"p":6,"h":20.2,"n":0.004},{"p":6,"h":20.9,"n":0.0035},{"p":6,"h":21.7,"n":0.00375},{"p":6,"h":22.5,"n":0.00345},{"p":6,"h":23.3,"n":0.0037},{"p":6,"h":24.1,"n":0.0034},{"p":6,"h":24.9,"n":0.0036},{"p":6,"h":25.7,"n":0.0034},{"p":6,"h":26.5,"n":0.0036},{"p":6,"h":27.3,"n":0.0034},
{"p":7,"h":1,"n":0.00395},{"p":7,"h":1.5,"n":0.0037},{"p":7,"h":2.2,"n":0.0038},{"p":7,"h":3,"n":0.00365},{"p":7,"h":3.8,"n":0.0038},{"p":7,"h":4.6,"n":0.0037},{"p":7,"h":5.4,"n":0.0038},{"p":7,"h":6.2,"n":0.0036},{"p":7,"h":7,"n":0.0037},{"p":7,"h":7.8,"n":0.00355},{"p":7,"h":8.6,"n":0.00365},{"p":7,"h":9.4,"n":0.00355},{"p":7,"h":10.2,"n":0.0036},{"p":7,"h":10.7,"n":0.0043},{"p":7,"h":11.4,"n":0.0039},{"p":7,"h":12.2,"n":0.0041},{"p":7,"h":13,"n":0.00385},{"p":7,"h":13.8,"n":0.00405},{"p":7,"h":14.6,"n":0.0038},{"p":7,"h":15.4,"n":0.0041},{"p":7,"h":16.2,"n":0.0039},{"p":7,"h":17,"n":0.0042},{"p":7,"h":17.8,"n":0.00395},{"p":7,"h":18.6,"n":0.00425},{"p":7,"h":19.4,"n":0.00395},{"p":7,"h":20.2,"n":0.0044},{"p":7,"h":20.9,"n":0.00395},{"p":7,"h":21.7,"n":0.0042},{"p":7,"h":22.5,"n":0.0039},{"p":7,"h":23.3,"n":0.00415},{"p":7,"h":24.1,"n":0.00385},{"p":7,"h":24.9,"n":0.00405},{"p":7,"h":25.7,"n":0.00385},{"p":7,"h":26.5,"n":0.00405},{"p":7,"h":27.3,"n":0.00385},
{"p":8,"h":1,"n":0.0041},{"p":8,"h":1.6,"n":0.0044},{"p":8,"h":2.2,"n":0.0048},{"p":8,"h":2.7,"n":0.0043},{"p":8,"h":3.4,"n":0.00415},{"p":8,"h":4.2,"n":0.00425},{"p":8,"h":5,"n":0.0041},{"p":8,"h":5.8,"n":0.0042},{"p":8,"h":6.6,"n":0.0041},{"p":8,"h":7.4,"n":0.00425},{"p":8,"h":8.2,"n":0.00415},{"p":8,"h":9,"n":0.00425},{"p":8,"h":9.8,"n":0.00415},{"p":8,"h":10.2,"n":0.0041},{"p":8,"h":10.7,"n":0.00485},{"p":8,"h":11.4,"n":0.0044},{"p":8,"h":12.2,"n":0.00455},{"p":8,"h":13,"n":0.0043},{"p":8,"h":13.8,"n":0.00445},{"p":8,"h":14.6,"n":0.00425},{"p":8,"h":15.4,"n":0.0045},{"p":8,"h":16.2,"n":0.0043},{"p":8,"h":17,"n":0.00455},{"p":8,"h":17.8,"n":0.00435},{"p":8,"h":18.6,"n":0.00465},{"p":8,"h":19.4,"n":0.0044},{"p":8,"h":20.2,"n":0.0048},{"p":8,"h":20.9,"n":0.00435},{"p":8,"h":21.7,"n":0.0046},{"p":8,"h":22.5,"n":0.0043},{"p":8,"h":23.3,"n":0.0045},{"p":8,"h":24.1,"n":0.00425},{"p":8,"h":24.9,"n":0.00445},{"p":8,"h":25.7,"n":0.00425},{"p":8,"h":26.5,"n":0.00445},{"p":8,"h":27.3,"n":0.0043},
{"p":10,"h":1,"n":0.0052},{"p":10,"h":1.6,"n":0.0051},{"p":10,"h":2.3,"n":0.00525},{"p":10,"h":3,"n":0.00515},{"p":10,"h":3.8,"n":0.00525},{"p":10,"h":4.6,"n":0.0051},{"p":10,"h":5.4,"n":0.0052},{"p":10,"h":6.2,"n":0.0051},{"p":10,"h":7,"n":0.0052},{"p":10,"h":7.8,"n":0.0051},{"p":10,"h":8.6,"n":0.00515},{"p":10,"h":9.4,"n":0.0051},{"p":10,"h":10,"n":0.00515},{"p":10,"h":10.5,"n":0.00565},{"p":10,"h":11.3,"n":0.0054},{"p":10,"h":12.1,"n":0.0056},{"p":10,"h":12.9,"n":0.00535},{"p":10,"h":13.7,"n":0.00555},{"p":10,"h":14.5,"n":0.0053},{"p":10,"h":15.3,"n":0.0056},{"p":10,"h":16.1,"n":0.00535},{"p":10,"h":16.9,"n":0.00565},{"p":10,"h":17.7,"n":0.0054},{"p":10,"h":18.5,"n":0.00565},{"p":10,"h":19.3,"n":0.0054},{"p":10,"h":20.1,"n":0.0057},{"p":10,"h":20.8,"n":0.00535},{"p":10,"h":21.6,"n":0.0056},{"p":10,"h":22.4,"n":0.0053},{"p":10,"h":23.2,"n":0.00555},{"p":10,"h":24,"n":0.0053},{"p":10,"h":24.8,"n":0.0055},{"p":10,"h":25.6,"n":0.0053},{"p":10,"h":26.4,"n":0.0056},{"p":10,"h":27.2,"n":0.0054},{"p":10,"h":28,"n":0.00565},{"p":10,"h":29,"n":0.0054},
{"p":11,"h":1,"n":0.00565},{"p":11,"h":1.6,"n":0.00575},{"p":11,"h":2.3,"n":0.0056},{"p":11,"h":3,"n":0.00575},{"p":11,"h":3.8,"n":0.00565},{"p":11,"h":4.6,"n":0.0058},{"p":11,"h":5.4,"n":0.00565},{"p":11,"h":6.2,"n":0.00575},{"p":11,"h":7,"n":0.0056},{"p":11,"h":7.8,"n":0.00575},{"p":11,"h":8.6,"n":0.00565},{"p":11,"h":9.4,"n":0.00575},{"p":11,"h":10,"n":0.00565},{"p":11,"h":10.5,"n":0.0063},{"p":11,"h":11.3,"n":0.00595},{"p":11,"h":12.1,"n":0.00615},{"p":11,"h":12.9,"n":0.0059},{"p":11,"h":13.7,"n":0.0061},{"p":11,"h":14.5,"n":0.00585},{"p":11,"h":15.3,"n":0.00615},{"p":11,"h":16.1,"n":0.0059},{"p":11,"h":16.9,"n":0.0062},{"p":11,"h":17.7,"n":0.00595},{"p":11,"h":18.5,"n":0.0062},{"p":11,"h":19.3,"n":0.00595},{"p":11,"h":20.1,"n":0.00635},{"p":11,"h":20.8,"n":0.00595},{"p":11,"h":21.6,"n":0.0062},{"p":11,"h":22.4,"n":0.0059},{"p":11,"h":23.2,"n":0.00615},{"p":11,"h":24,"n":0.0059},{"p":11,"h":24.8,"n":0.0062},{"p":11,"h":25.6,"n":0.006},{"p":11,"h":26.4,"n":0.0064},{"p":11,"h":27.2,"n":0.0061},{"p":11,"h":28,"n":0.0063},
{"p":12,"h":1,"n":0.0062},{"p":12,"h":1.6,"n":0.0063},{"p":12,"h":2.3,"n":0.00615},{"p":12,"h":3,"n":0.0063},{"p":12,"h":3.8,"n":0.00615},{"p":12,"h":4.6,"n":0.00625},{"p":12,"h":5.4,"n":0.0061},{"p":12,"h":6.2,"n":0.00625},{"p":12,"h":7,"n":0.00615},{"p":12,"h":7.8,"n":0.0063},{"p":12,"h":8.6,"n":0.00615},{"p":12,"h":9.4,"n":0.00625},{"p":12,"h":10,"n":0.00615},{"p":12,"h":10.5,"n":0.00685},{"p":12,"h":11.3,"n":0.00645},{"p":12,"h":12.1,"n":0.00665},{"p":12,"h":12.9,"n":0.0064},{"p":12,"h":13.7,"n":0.0066},{"p":12,"h":14.5,"n":0.00635},{"p":12,"h":15.3,"n":0.00665},{"p":12,"h":16.1,"n":0.0064},{"p":12,"h":16.9,"n":0.0067},{"p":12,"h":17.7,"n":0.00645},{"p":12,"h":18.5,"n":0.00675},{"p":12,"h":19.3,"n":0.00645},{"p":12,"h":20.1,"n":0.0068},{"p":12,"h":20.8,"n":0.0064},{"p":12,"h":21.6,"n":0.0067},{"p":12,"h":22.4,"n":0.0064},{"p":12,"h":23.2,"n":0.0068},{"p":12,"h":24,"n":0.0065},{"p":12,"h":24.8,"n":0.00675},{"p":12,"h":25.6,"n":0.0065},{"p":12,"h":26.4,"n":0.00695},{"p":12,"h":27.2,"n":0.0066},{"p":12,"h":28,"n":0.0068},
{"p":13,"h":1,"n":0.00665},{"p":13,"h":1.6,"n":0.00675},{"p":13,"h":2.3,"n":0.0066},{"p":13,"h":3,"n":0.00675},{"p":13,"h":3.8,"n":0.0066},{"p":13,"h":4.6,"n":0.0067},{"p":13,"h":5.4,"n":0.0066},{"p":13,"h":6.2,"n":0.00675},{"p":13,"h":7,"n":0.0066},{"p":13,"h":7.8,"n":0.0067},{"p":13,"h":8.6,"n":0.0066},{"p":13,"h":9.4,"n":0.0067},{"p":13,"h":10.1,"n":0.0066},{"p":13,"h":10.6,"n":0.0072},{"p":13,"h":11.3,"n":0.00685},{"p":13,"h":12.1,"n":0.00705},{"p":13,"h":12.9,"n":0.0068},{"p":13,"h":13.7,"n":0.007},{"p":13,"h":14.5,"n":0.00675},{"p":13,"h":15.3,"n":0.00705},{"p":13,"h":16.1,"n":0.0068},{"p":13,"h":16.9,"n":0.0071},{"p":13,"h":17.7,"n":0.00685},{"p":13,"h":18.5,"n":0.00715},{"p":13,"h":19.3,"n":0.0069},{"p":13,"h":20.1,"n":0.00725},{"p":13,"h":20.8,"n":0.0069},{"p":13,"h":21.6,"n":0.0072},{"p":13,"h":22.4,"n":0.00695},{"p":13,"h":23.2,"n":0.00735},{"p":13,"h":24,"n":0.007},{"p":13,"h":24.8,"n":0.0073},{"p":13,"h":25.6,"n":0.00705},{"p":13,"h":26.4,"n":0.0075},{"p":13,"h":27.2,"n":0.00715},{"p":13,"h":28,"n":0.0073},
{"p":14,"h":1,"n":0.00715},{"p":14,"h":1.6,"n":0.0073},{"p":14,"h":2.3,"n":0.00715},{"p":14,"h":3,"n":0.0073},{"p":14,"h":3.8,"n":0.00715},{"p":14,"h":4.6,"n":0.00725},{"p":14,"h":5.4,"n":0.00715},{"p":14,"h":6.2,"n":0.0073},{"p":14,"h":7,"n":0.00715},{"p":14,"h":7.8,"n":0.00725},{"p":14,"h":8.6,"n":0.00715},{"p":14,"h":9.4,"n":0.0073},{"p":14,"h":10.1,"n":0.0072},{"p":14,"h":10.6,"n":0.0077},{"p":14,"h":11.3,"n":0.0074},{"p":14,"h":12.1,"n":0.0076},{"p":14,"h":12.9,"n":0.00735},{"p":14,"h":13.7,"n":0.00755},{"p":14,"h":14.5,"n":0.0073},{"p":14,"h":15.3,"n":0.0076},{"p":14,"h":16.1,"n":0.00735},{"p":14,"h":16.9,"n":0.00765},{"p":14,"h":17.7,"n":0.0074},{"p":14,"h":18.5,"n":0.0077},{"p":14,"h":19.3,"n":0.0074},{"p":14,"h":20.1,"n":0.0078},{"p":14,"h":20.8,"n":0.00745},{"p":14,"h":21.6,"n":0.00775},{"p":14,"h":22.4,"n":0.00745},{"p":14,"h":23.2,"n":0.0078},{"p":14,"h":24,"n":0.0075},{"p":14,"h":24.8,"n":0.0079},{"p":14,"h":25.6,"n":0.0076},{"p":14,"h":26.4,"n":0.00815},{"p":14,"h":27.2,"n":0.0077},{"p":14,"h":28,"n":0.0079},
{"p":15,"h":1,"n":0.00765},{"p":15,"h":1.6,"n":0.00775},{"p":15,"h":2.3,"n":0.0076},{"p":15,"h":3,"n":0.0078},{"p":15,"h":3.8,"n":0.00765},{"p":15,"h":4.6,"n":0.00775},{"p":15,"h":5.4,"n":0.0076},{"p":15,"h":6.2,"n":0.00775},{"p":15,"h":7,"n":0.00765},{"p":15,"h":7.8,"n":0.0078},{"p":15,"h":8.6,"n":0.00765},{"p":15,"h":9.4,"n":0.00775},{"p":15,"h":10.1,"n":0.00765},{"p":15,"h":10.6,"n":0.00825},{"p":15,"h":11.3,"n":0.0079},{"p":15,"h":12.1,"n":0.0081},{"p":15,"h":12.9,"n":0.00785},{"p":15,"h":13.7,"n":0.00805},{"p":15,"h":14.5,"n":0.0078},{"p":15,"h":15.3,"n":0.0081},{"p":15,"h":16.1,"n":0.00785},{"p":15,"h":16.9,"n":0.00815},{"p":15,"h":17.7,"n":0.0079},{"p":15,"h":18.5,"n":0.0082},{"p":15,"h":19.3,"n":0.0079},{"p":15,"h":20.1,"n":0.00835},{"p":15,"h":20.8,"n":0.00795},{"p":15,"h":21.6,"n":0.00825},{"p":15,"h":22.4,"n":0.00795},{"p":15,"h":23.2,"n":0.0083},{"p":15,"h":24,"n":0.008},{"p":15,"h":24.8,"n":0.0084},{"p":15,"h":25.6,"n":0.0081},{"p":15,"h":26.4,"n":0.0087},{"p":15,"h":27.2,"n":0.0082},{"p":15,"h":28,"n":0.0084},
{"p":16,"h":1,"n":0.0082},{"p":16,"h":1.6,"n":0.0081},{"p":16,"h":2.3,"n":0.0083},{"p":16,"h":3,"n":0.00815},{"p":16,"h":3.8,"n":0.00835},{"p":16,"h":4.6,"n":0.0082},{"p":16,"h":5.4,"n":0.0084},{"p":16,"h":6.2,"n":0.0082},{"p":16,"h":7,"n":0.0081},{"p":16,"h":7.8,"n":0.00825},{"p":16,"h":8.6,"n":0.00815},{"p":16,"h":9.4,"n":0.0083},{"p":16,"h":10,"n":0.0082},{"p":16,"h":10.5,"n":0.0086},{"p":16,"h":11.3,"n":0.00845},{"p":16,"h":12.1,"n":0.00865},{"p":16,"h":12.9,"n":0.0084},{"p":16,"h":13.7,"n":0.0086},{"p":16,"h":14.5,"n":0.00835},{"p":16,"h":15.3,"n":0.00865},{"p":16,"h":16.1,"n":0.0084},{"p":16,"h":16.9,"n":0.0087},{"p":16,"h":17.7,"n":0.00845},{"p":16,"h":18.5,"n":0.00875},{"p":16,"h":19.3,"n":0.00845},{"p":16,"h":20.1,"n":0.0089},{"p":16,"h":20.8,"n":0.0085},{"p":16,"h":21.6,"n":0.0088},{"p":16,"h":22.4,"n":0.0085},{"p":16,"h":23.2,"n":0.00885},{"p":16,"h":24,"n":0.00855},{"p":16,"h":24.8,"n":0.00895},{"p":16,"h":25.6,"n":0.00865},{"p":16,"h":26.4,"n":0.0093},{"p":16,"h":27.2,"n":0.00875},{"p":16,"h":28,"n":0.00895},
{"p":17,"h":1,"n":0.00865},{"p":17,"h":1.5,"n":0.0088},{"p":17,"h":2.2,"n":0.0092},{"p":17,"h":2.9,"n":0.00895},{"p":17,"h":3.6,"n":0.0087},{"p":17,"h":4.4,"n":0.00865},{"p":17,"h":5.2,"n":0.00875},{"p":17,"h":6,"n":0.00865},{"p":17,"h":6.8,"n":0.0088},{"p":17,"h":7.6,"n":0.00865},{"p":17,"h":8.4,"n":0.0088},{"p":17,"h":9.2,"n":0.0087},{"p":17,"h":9.9,"n":0.0088},{"p":17,"h":10.4,"n":0.00915},{"p":17,"h":11.2,"n":0.0089},{"p":17,"h":12,"n":0.0091},{"p":17,"h":12.8,"n":0.00885},{"p":17,"h":13.6,"n":0.00905},{"p":17,"h":14.4,"n":0.0088},{"p":17,"h":15.2,"n":0.0091},{"p":17,"h":16,"n":0.00885},{"p":17,"h":16.8,"n":0.00915},{"p":17,"h":17.6,"n":0.0089},{"p":17,"h":18.4,"n":0.00925},{"p":17,"h":19.2,"n":0.00895},{"p":17,"h":20,"n":0.00945},{"p":17,"h":20.7,"n":0.009},{"p":17,"h":21.5,"n":0.0093},{"p":17,"h":22.3,"n":0.00895},{"p":17,"h":23.1,"n":0.00925},{"p":17,"h":23.9,"n":0.009},{"p":17,"h":24.7,"n":0.0092},{"p":17,"h":25.5,"n":0.009},{"p":17,"h":26.3,"n":0.00915},{"p":17,"h":27.1,"n":0.00895},{"p":17,"h":27.9,"n":0.0091},
{"p":18,"h":1,"n":0.0091},{"p":18,"h":1.6,"n":0.00915},{"p":18,"h":2.3,"n":0.0091},{"p":18,"h":3,"n":0.0092},{"p":18,"h":3.8,"n":0.0091},{"p":18,"h":4.6,"n":0.0093},{"p":18,"h":5.4,"n":0.00915},{"p":18,"h":6.2,"n":0.0093},{"p":18,"h":7,"n":0.0092},{"p":18,"h":7.8,"n":0.00935},{"p":18,"h":8.6,"n":0.0092},{"p":18,"h":9.4,"n":0.00935},{"p":18,"h":10,"n":0.00925},{"p":18,"h":10.5,"n":0.0097},{"p":18,"h":11.3,"n":0.0094},{"p":18,"h":12.1,"n":0.00955},{"p":18,"h":12.9,"n":0.0093},{"p":18,"h":13.7,"n":0.0095},{"p":18,"h":14.5,"n":0.0093},{"p":18,"h":15.3,"n":0.00955},{"p":18,"h":16.1,"n":0.00935},{"p":18,"h":16.9,"n":0.0096},{"p":18,"h":17.7,"n":0.00935},{"p":18,"h":18.5,"n":0.0096},{"p":18,"h":19.3,"n":0.0094},{"p":18,"h":20.1,"n":0.0098},{"p":18,"h":20.8,"n":0.0094},{"p":18,"h":21.6,"n":0.00965},{"p":18,"h":22.4,"n":0.0094},{"p":18,"h":23.2,"n":0.00965},{"p":18,"h":24,"n":0.0094},{"p":18,"h":24.8,"n":0.0096},{"p":18,"h":25.6,"n":0.0094},{"p":18,"h":26.4,"n":0.0096},{"p":18,"h":27.2,"n":0.0094},{"p":18,"h":28,"n":0.00955},
{"p":19,"h":1,"n":0.00955},{"p":19,"h":1.8,"n":0.0096},{"p":19,"h":2.6,"n":0.00955},{"p":19,"h":3.4,"n":0.0096},{"p":19,"h":4,"n":0.00985},{"p":19,"h":4.6,"n":0.00975},{"p":19,"h":5.4,"n":0.00995},{"p":19,"h":6.2,"n":0.0097},{"p":19,"h":7,"n":0.00995},{"p":19,"h":7.8,"n":0.00975},{"p":19,"h":8.6,"n":0.01},{"p":19,"h":9.4,"n":0.00975},{"p":19,"h":10.2,"n":0.01},{"p":19,"h":11,"n":0.00975},{"p":19,"h":11.8,"n":0.01},{"p":19,"h":12.6,"n":0.0098},{"p":19,"h":13.4,"n":0.01},{"p":19,"h":14.2,"n":0.0098},{"p":19,"h":15,"n":0.00995},{"p":19,"h":15.8,"n":0.00975},{"p":19,"h":16.6,"n":0.01},{"p":19,"h":17.4,"n":0.0098},{"p":19,"h":18.2,"n":0.01},{"p":19,"h":19,"n":0.0098},{"p":19,"h":19.7,"n":0.00995},{"p":19,"h":20.2,"n":0.0105},{"p":19,"h":20.8,"n":0.00995},{"p":19,"h":21.5,"n":0.01015},{"p":19,"h":22.3,"n":0.0099},{"p":19,"h":23.1,"n":0.0101},{"p":19,"h":23.9,"n":0.0099},{"p":19,"h":24.7,"n":0.01005},{"p":19,"h":25.5,"n":0.00985},{"p":19,"h":26.3,"n":0.01005},{"p":19,"h":27.1,"n":0.0103}
],
"botU": [
{"p":0,"h":28.8,"n":0.00035},{"p":0,"h":29.6,"n":0.0005},{"p":0,"h":30.4,"n":0.0006},
{"p":1,"h":28.8,"n":0.0008},{"p":1,"h":29.6,"n":0.001},{"p":1,"h":30.4,"n":0.00115},
{"p":2,"h":28.1,"n":0.00155},{"p":2,"h":29,"n":0.0014},{"p":2,"h":29.9,"n":0.0016},{"p":2,"h":30.7,"n":0.00175},
{"p":3,"h":28,"n":0.00195},{"p":3,"h":28.9,"n":0.0018},{"p":3,"h":29.8,"n":0.002},{"p":3,"h":30.6,"n":0.0022},
{"p":4,"h":28.1,"n":0.0025},{"p":4,"h":29,"n":0.00235},{"p":4,"h":29.9,"n":0.00255},{"p":4,"h":30.7,"n":0.0027},
{"p":5,"h":28.1,"n":0.00305},{"p":5,"h":29,"n":0.0029},{"p":5,"h":29.9,"n":0.0031},{"p":5,"h":30.7,"n":0.00325},
{"p":6,"h":28.1,"n":0.00355},{"p":6,"h":29,"n":0.0034},{"p":6,"h":29.9,"n":0.0036},
{"p":7,"h":28.1,"n":0.004},{"p":7,"h":29,"n":0.00385},{"p":7,"h":29.9,"n":0.00405},
{"p":8,"h":28.1,"n":0.00445},{"p":8,"h":29,"n":0.0043},{"p":8,"h":29.9,"n":0.00445},
{"p":10,"h":29.8,"n":0.0055},{"p":10,"h":30.5,"n":0.00545},
{"p":11,"h":28.8,"n":0.0061},{"p":11,"h":29.6,"n":0.00625},{"p":11,"h":30.4,"n":0.00615},
{"p":12,"h":28.8,"n":0.0066},{"p":12,"h":29.6,"n":0.00675},{"p":12,"h":30.4,"n":0.00665},
{"p":13,"h":28.8,"n":0.0071},{"p":13,"h":29.6,"n":0.00725},{"p":13,"h":30.4,"n":0.00715},
{"p":14,"h":28.8,"n":0.00765},{"p":14,"h":29.6,"n":0.0078},{"p":14,"h":30.4,"n":0.0077},
{"p":15,"h":28.8,"n":0.00815},{"p":15,"h":29.6,"n":0.0083},{"p":15,"h":30.4,"n":0.0082},
{"p":16,"h":28.8,"n":0.0087},{"p":16,"h":29.6,"n":0.00885},{"p":16,"h":30.4,"n":0.00875},
{"p":17,"h":28.7,"n":0.00895},{"p":17,"h":29.5,"n":0.0091},{"p":17,"h":30.3,"n":0.009},
{"p":18,"h":28.8,"n":0.0094},{"p":18,"h":29.6,"n":0.00955},{"p":18,"h":30.4,"n":0.00945},
{"p":19,"h":27.8,"n":0.01015},{"p":19,"h":28.6,"n":0.01035},{"p":19,"h":29.4,"n":0.0102}
]
},
"vconcat": [
{
  "width": 828, "height": 251,
  "encoding": {
    "x": {"field": "n", "type": "quantitative", "scale": {"domain": [0, 0.0119], "nice": false, "zero": false},
      "axis": {"title": null, "values": [0,0.0005,0.001,0.0015,0.002,0.0025,0.003,0.0035,0.004,0.0045,0.005,0.0055,0.006,0.0065,0.007,0.0075,0.008,0.0085,0.009,0.0095,0.01,0.0105,0.011,0.0115],
        "grid": true, "gridOpacity": {"condition": {"test": "datum.value > 0.0001 && datum.value < 0.0061", "value": 1}, "value": 0},
        "tickSize": {"condition": {"test": "round(datum.value*2000) % 5 == 0", "value": 8}, "value": 4},
        "labelExpr": "round(datum.value*2000) % 5 == 0 ? format(datum.value, '.4f') : ''",
        "labelFlush": true, "labelOverlap": false, "labelPadding": 3, "labelFontSize": 15}},
    "y": {"field": "h", "type": "quantitative", "scale": {"domain": [0, 40], "nice": false},
      "axis": {"title": "ALTITUDE (KM)", "titleFontSize": 17, "titlePadding": 33,
        "values": [0,1,2,3,4,5,6,7,8,9,10,11,12,13,14,15,16,17,18,19,20,21,22,23,24,25,26,27,28,29,30,31,32,33,34,35,36,37,38,39,40],
        "grid": true, "gridOpacity": {"condition": {"test": "datum.value % 5 == 0 && datum.value > 0 && datum.value < 40", "value": 1}, "value": 0},
        "tickSize": {"condition": {"test": "datum.value % 10 == 0", "value": 8}, "value": 3},
        "labelExpr": "datum.value % 10 == 0 ? format(datum.value, '.1f') : ''",
        "labelOverlap": false, "labelPadding": 2, "labelFontSize": 16}},
    "detail": {"field": "p", "type": "nominal"},
    "order": {"field": "h", "type": "quantitative"}
  },
  "layer": [
    {"data": {"name": "top"}, "mark": {"type": "line", "color": "black", "strokeWidth": 1.6, "strokeJoin": "round", "interpolate": "catmull-rom"}},
    {"data": {"name": "topU"}, "mark": {"type": "line", "color": "black", "strokeWidth": 1.2, "strokeDash": [2, 3]}}
  ]
},
{
  "width": 828, "height": 249,
  "encoding": {
    "x": {"field": "n", "type": "quantitative", "scale": {"domain": [0, 0.0119], "nice": false, "zero": false},
      "axis": {"title": "B-V FREQUENCY SQUARED (RAD/S)××2", "titleFontSize": 21, "titlePadding": 3, "values": [0,0.0005,0.001,0.0015,0.002,0.0025,0.003,0.0035,0.004,0.0045,0.005,0.0055,0.006,0.0065,0.007,0.0075,0.008,0.0085,0.009,0.0095,0.01,0.0105,0.011,0.0115],
        "grid": true, "gridOpacity": {"condition": {"test": "datum.value > 0.0001 && datum.value < 0.0096", "value": 1}, "value": 0},
        "tickSize": {"condition": {"test": "round(datum.value*2000) % 5 == 0", "value": 8}, "value": 4},
        "labelExpr": "round(datum.value*2000) % 5 == 0 ? format(datum.value, '.4f') : ''",
        "labelFlush": true, "labelOverlap": false, "labelPadding": 3, "labelFontSize": 15}},
    "y": {"field": "h", "type": "quantitative", "scale": {"domain": [0, 40], "nice": false},
      "axis": {"title": "ALTITUDE (KM)", "titleFontSize": 17, "titlePadding": 33,
        "values": [0,1,2,3,4,5,6,7,8,9,10,11,12,13,14,15,16,17,18,19,20,21,22,23,24,25,26,27,28,29,30,31,32,33,34,35,36,37,38,39,40],
        "grid": true, "gridOpacity": {"condition": {"test": "datum.value % 5 == 0 && datum.value > 0 && datum.value < 40", "value": 1}, "value": 0},
        "tickSize": {"condition": {"test": "datum.value % 10 == 0", "value": 8}, "value": 3},
        "labelExpr": "datum.value % 10 == 0 ? format(datum.value, '.1f') : ''",
        "labelOverlap": false, "labelPadding": 2, "labelFontSize": 16}},
    "detail": {"field": "p", "type": "nominal"},
    "order": {"field": "h", "type": "quantitative"}
  },
  "layer": [
    {"data": {"name": "bot"}, "mark": {"type": "line", "color": "black", "strokeWidth": 1.6, "strokeJoin": "round", "interpolate": "catmull-rom"}},
    {"data": {"name": "botU"}, "mark": {"type": "line", "color": "black", "strokeWidth": 1.2, "strokeDash": [2, 3]}}
  ]
}
]
}
